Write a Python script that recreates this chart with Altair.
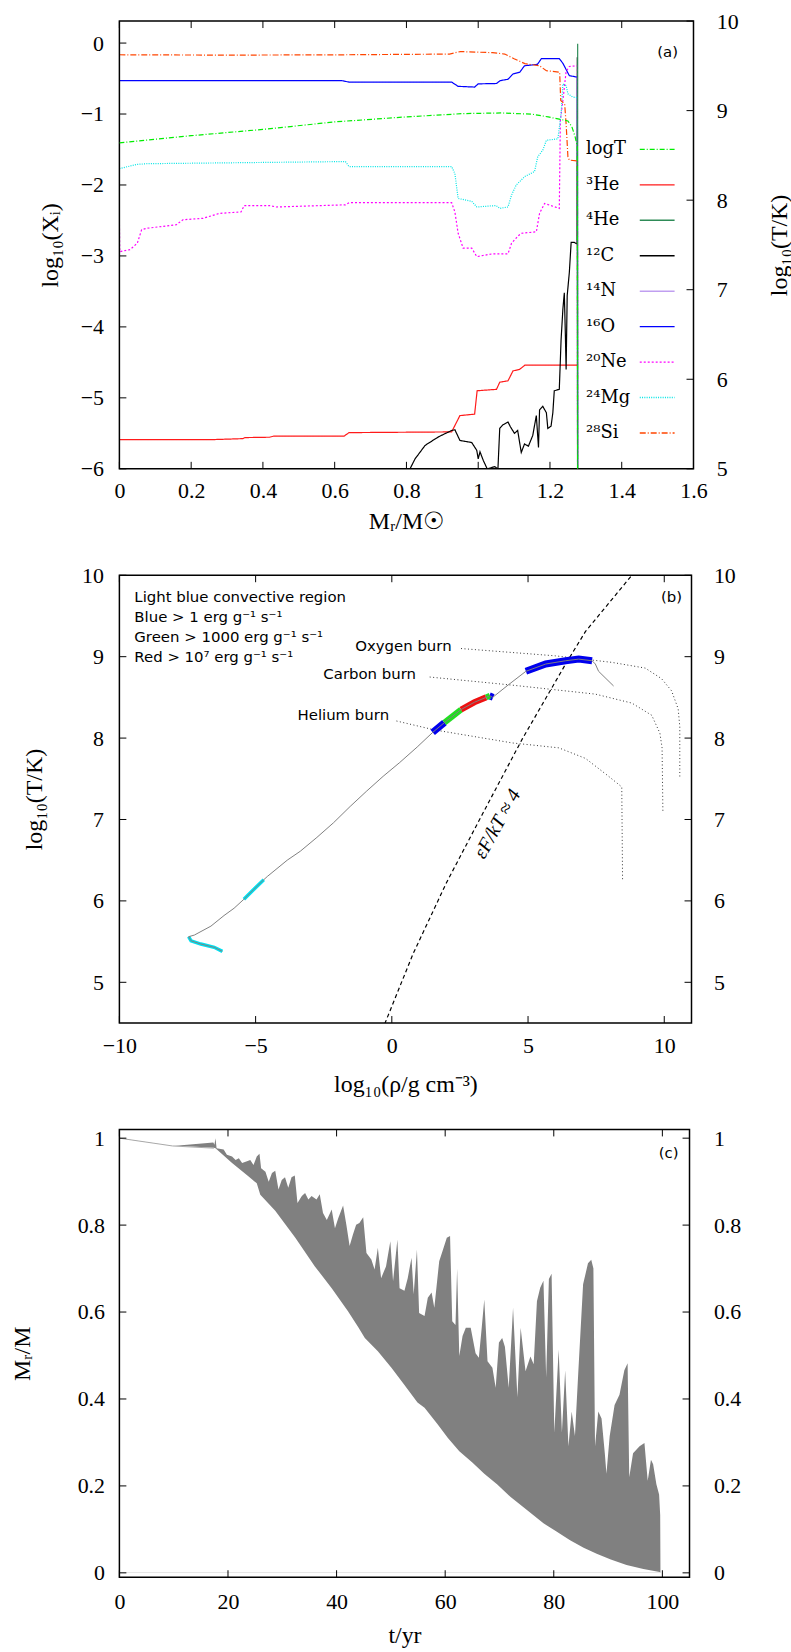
import altair as alt
import pandas as pd

SERIF = "Liberation Serif"
SERIF_SUP = "DejaVu Serif"
SANS = "DejaVu Sans"

# ======================= Panel (a): abundance profiles =======================
A_SPECIES = ["logT", "3He", "4He", "12C", "14N", "16O", "20Ne", "24Mg", "28Si"]
A_LABELS = ["logT", "³He", "⁴He", "¹²C", "¹⁴N", "¹⁶O", "²⁰Ne", "²⁴Mg", "²⁸Si"]
A_COLORS = ["#00ee00", "#ff1a1a", "#2e8b57", "#000000", "#c09ff0", "#0000ff", "#ff00ff", "#00e5e5", "#ff4500"]
A_DASHES = [[5, 2, 1, 2], [1, 0], [1, 0], [1, 0], [1, 0], [1, 0], [2, 2], [1, 1.3], [6, 2, 1, 2]]
A_XTICKS = [0, 0.2, 0.4, 0.6, 0.8, 1.0, 1.2, 1.4, 1.6]
A_YTICKS = [-6, -5, -4, -3, -2, -1, 0]
A_TTICKS = [5, 6, 7, 8, 9, 10]

LOGT = [(0, 8.64), (0.2, 8.72), (0.4, 8.79), (0.6, 8.874), (0.8, 8.93), (0.96, 8.967), (1.065, 8.974),
        (1.15, 8.96), (1.195, 8.93), (1.219, 8.91), (1.25, 8.885), (1.261, 8.82), (1.27, 8.71),
        (1.276, 8.60), (1.2772, 4.9)]
HE3 = [(0, -5.59), (0.25, -5.59), (0.344, -5.575), (0.35, -5.56), (0.418, -5.555), (0.43, -5.54),
       (0.626, -5.54), (0.64, -5.49), (0.926, -5.48), (0.93, -5.44), (0.949, -5.25), (0.99, -5.23),
       (0.997, -4.90), (1.051, -4.88), (1.06, -4.78), (1.083, -4.76), (1.097, -4.62), (1.115, -4.60),
       (1.13, -4.54), (1.277, -4.54)]
HE4 = [(1.2768, -6.5), (1.2772, -0.01)]
C12 = [(0.81, -6.0), (0.824, -5.86), (0.852, -5.67), (0.889, -5.55), (0.926, -5.46), (0.935, -5.45),
       (0.949, -5.60), (0.982, -5.63), (0.996, -5.74), (1.0, -5.86), (1.005, -5.76), (1.014, -5.88),
       (1.025, -6.0), (1.046, -5.97), (1.055, -6.0), (1.06, -5.43), (1.069, -5.38), (1.083, -5.34),
       (1.09, -5.41), (1.101, -5.50), (1.11, -5.46), (1.12, -5.77), (1.129, -5.65), (1.14, -5.68),
       (1.152, -5.53), (1.162, -5.25), (1.168, -5.70), (1.171, -5.17), (1.18, -5.12), (1.19, -5.21),
       (1.194, -5.43), (1.203, -5.40), (1.208, -5.21), (1.212, -4.90), (1.226, -4.88), (1.231, -4.18),
       (1.236, -3.75), (1.24, -3.52), (1.243, -4.13), (1.245, -4.60), (1.248, -3.56), (1.254, -3.23),
       (1.259, -2.81), (1.268, -2.81), (1.2755, -2.83), (1.2762, -0.2), (1.277, -6.5)]
N14 = [(1.2775, -6.5), (1.2775, -4.8)]
O16 = [(0, -0.53), (0.62, -0.53), (0.64, -0.55), (0.926, -0.55), (0.944, -0.61), (0.99, -0.62),
       (1.0, -0.575), (1.051, -0.57), (1.061, -0.53), (1.083, -0.51), (1.097, -0.435), (1.116, -0.41),
       (1.129, -0.32), (1.165, -0.30), (1.176, -0.22), (1.226, -0.22), (1.236, -0.285), (1.254, -0.46),
       (1.2765, -0.48), (1.277, -6.5)]
NE20 = [(0, -2.5), (0.001, -2.94), (0.03, -2.91), (0.05, -2.82), (0.062, -2.63), (0.077, -2.61),
        (0.159, -2.56), (0.177, -2.49), (0.233, -2.47), (0.279, -2.40), (0.339, -2.38), (0.348, -2.29),
        (0.418, -2.29), (0.437, -2.31), (0.63, -2.28), (0.64, -2.25), (0.926, -2.25), (0.935, -2.38),
        (0.944, -2.68), (0.958, -2.89), (0.982, -2.89), (0.996, -3.01), (1.04, -2.97), (1.083, -2.97),
        (1.093, -2.82), (1.111, -2.72), (1.12, -2.68), (1.162, -2.66), (1.171, -2.40), (1.185, -2.26),
        (1.226, -2.33), (1.229, -1.09), (1.236, -0.81), (1.245, -0.40), (1.254, -0.33), (1.2765, -0.32),
        (1.277, -6.5)]
MG24 = [(0, -1.77), (0.048, -1.71), (0.077, -1.70), (0.63, -1.67), (0.64, -1.74), (0.926, -1.74),
        (0.935, -1.84), (0.944, -2.19), (0.982, -2.23), (0.996, -2.31), (1.05, -2.29), (1.06, -2.33),
        (1.083, -2.31), (1.093, -2.14), (1.106, -2.0), (1.13, -1.88), (1.157, -1.81), (1.166, -1.60),
        (1.18, -1.51), (1.19, -1.37), (1.222, -1.35), (1.231, -1.0), (1.236, -0.575), (1.245, -0.6),
        (1.25, -0.715), (1.263, -0.76), (1.2765, -0.77), (1.277, -6.5)]
SI28 = [(0, -0.165), (0.3, -0.17), (0.63, -0.165), (0.92, -0.155), (0.95, -0.12), (1.04, -0.135),
        (1.074, -0.155), (1.10, -0.22), (1.13, -0.29), (1.171, -0.32), (1.19, -0.39), (1.227, -0.41),
        (1.23, -0.81), (1.241, -0.86), (1.245, -1.14), (1.250, -1.60), (1.254, -1.65), (1.2765, -1.66),
        (1.277, -6.5)]

# ======================= Panel (b): rho-T track =======================
B_XTICKS = [-10, -5, 0, 5, 10]
B_YTICKS = [5, 6, 7, 8, 9, 10]
TRACK = [(-6.22, 5.38), (-6.52, 5.43), (-7.01, 5.47), (-7.37, 5.51), (-7.46, 5.56), (-7.25, 5.58),
         (-6.64, 5.69), (-6.16, 5.82), (-5.79, 5.91), (-5.43, 6.02), (-5.07, 6.14), (-4.70, 6.26),
         (-4.57, 6.30), (-3.84, 6.50), (-3.36, 6.61), (-2.75, 6.78), (-2.14, 6.96), (-1.53, 7.16),
         (-0.92, 7.35), (-0.32, 7.53), (0.29, 7.70), (0.93, 7.89), (1.50, 8.07), (1.93, 8.19),
         (2.54, 8.35), (3.03, 8.44), (3.46, 8.50), (3.60, 8.52), (3.70, 8.50), (4.30, 8.66),
         (4.92, 8.82), (5.65, 8.91), (6.38, 8.95), (6.86, 8.97), (7.35, 8.95), (7.47, 8.91),
         (7.59, 8.82), (8.14, 8.64)]
CYAN_SEGS = [[(-6.22, 5.38), (-6.52, 5.43), (-7.01, 5.47), (-7.37, 5.51), (-7.46, 5.56)],
             [(-5.43, 6.02), (-5.07, 6.14), (-4.70, 6.26)]]
BLUE_SEGS = [[(1.50, 8.07), (1.93, 8.19)],
             [(3.58, 8.52), (3.72, 8.50)],
             [(4.92, 8.82), (5.65, 8.91), (6.38, 8.95), (6.86, 8.97), (7.35, 8.95)]]
GREEN_SEGS = [[(1.93, 8.19), (2.54, 8.35)], [(3.46, 8.50), (3.60, 8.52)]]
RED_SEGS = [[(2.54, 8.35), (3.03, 8.44), (3.46, 8.50)]]
BURN_OXYGEN = [(2.54, 9.10), (6.01, 9.01), (8.08, 8.93), (9.30, 8.86), (9.90, 8.73), (10.27, 8.58),
               (10.51, 8.36), (10.57, 8.14), (10.57, 7.51)]
BURN_CARBON = [(1.39, 8.75), (4.43, 8.65), (7.47, 8.54), (8.81, 8.43), (9.54, 8.28), (9.84, 8.06),
               (9.92, 7.88), (9.95, 7.09)]
BURN_HELIUM = [(0.17, 8.21), (1.57, 8.10), (4.43, 7.94), (6.13, 7.88), (7.11, 7.75), (7.96, 7.53),
               (8.44, 7.40), (8.47, 6.24)]
DEGEN = [(-0.26, 4.49), (0.78, 5.35), (2.0, 6.22), (3.3, 7.05), (4.79, 7.99), (6.38, 8.91),
         (7.11, 9.31), (8.81, 10.0)]

# ======================= Panel (c): convective boundaries =======================
C_XTICKS = [0, 20, 40, 60, 80, 100]
C_YTICKS = [0, 0.2, 0.4, 0.6, 0.8, 1.0]
C_EARLY = [(0, 1.0), (9.8, 0.982), (17.4, 0.977)]
C_TOP = [(0, 1.0), (9.8, 0.982), (17.3, 0.99), (17.5, 0.985), (17.7, 1.0), (17.9, 0.977), (19.2, 0.974),
         (19.8, 0.962), (20.75, 0.958), (21.4, 0.950), (22.0, 0.954), (22.6, 0.943), (23.5, 0.947),
         (24.1, 0.950), (24.7, 0.938), (25.3, 0.958), (25.8, 0.964), (26.1, 0.931), (26.9, 0.923),
         (27.5, 0.900), (28.1, 0.920), (28.7, 0.925), (29.3, 0.882), (29.9, 0.904), (30.5, 0.910),
         (31.1, 0.886), (31.7, 0.910), (32.3, 0.914), (32.8, 0.851), (33.6, 0.867), (34.2, 0.874),
         (34.8, 0.859), (35.4, 0.867), (36.3, 0.859), (36.9, 0.871), (37.5, 0.828), (38.2, 0.812),
         (39.1, 0.836), (39.7, 0.793), (40.3, 0.816), (41.2, 0.845), (41.8, 0.801), (42.4, 0.752),
         (43.0, 0.778), (43.6, 0.801), (44.2, 0.805), (44.9, 0.818), (45.5, 0.736), (46.4, 0.721),
         (47.0, 0.698), (47.6, 0.748), (48.2, 0.678), (49.1, 0.705), (49.9, 0.763), (50.4, 0.671),
         (51.2, 0.767), (51.6, 0.655), (52.5, 0.649), (53.1, 0.678), (53.8, 0.725), (54.2, 0.641),
         (54.8, 0.744), (55.2, 0.598), (56.2, 0.591), (56.8, 0.633), (57.5, 0.645), (58.0, 0.610),
         (58.9, 0.717), (59.5, 0.740), (60.3, 0.771), (60.9, 0.775), (61.3, 0.579), (61.9, 0.57),
         (62.2, 0.70), (62.6, 0.499), (63.2, 0.545), (63.8, 0.564), (64.7, 0.564), (65.6, 0.505),
         (66.2, 0.495), (66.7, 0.56), (67.2, 0.629), (67.8, 0.487), (68.7, 0.472), (69.3, 0.426),
         (69.9, 0.53), (70.5, 0.540), (71.0, 0.52), (71.7, 0.426), (72.5, 0.610), (73.3, 0.404),
         (73.9, 0.564), (74.8, 0.464), (75.7, 0.498), (76.3, 0.48), (76.9, 0.625), (77.5, 0.656),
         (78.1, 0.672), (78.6, 0.45), (79.1, 0.676), (79.6, 0.688), (80.1, 0.323), (80.9, 0.514),
         (81.5, 0.323), (82.1, 0.466), (82.7, 0.291), (83.3, 0.371), (83.9, 0.315), (84.5, 0.458),
         (85.4, 0.664), (86.3, 0.712), (86.9, 0.72), (87.3, 0.70), (87.6, 0.291), (88.2, 0.371),
         (88.8, 0.355), (89.4, 0.275), (89.7, 0.228), (90.3, 0.315), (91.2, 0.386), (92.1, 0.41),
         (93.0, 0.466), (93.6, 0.482), (93.9, 0.22), (94.6, 0.275), (95.8, 0.291), (96.7, 0.299),
         (97.3, 0.212), (97.9, 0.26), (98.3, 0.25), (98.9, 0.204), (99.4, 0.18), (99.6, 0.133),
         (99.65, 0.0)]
C_BOT = [(0, 1.0), (9.8, 0.983), (17.4, 0.978), (17.7, 0.977), (20.75, 0.943), (23.8, 0.912),
         (25.3, 0.896), (25.95, 0.870), (28.7, 0.833), (32.4, 0.771), (36.0, 0.705), (39.1, 0.655),
         (42.1, 0.602), (44.0, 0.565), (45.2, 0.540), (47.6, 0.51), (50.1, 0.472), (52.5, 0.432),
         (54.9, 0.392), (56.2, 0.38), (58.6, 0.342), (60.5, 0.31), (62.6, 0.28), (65.0, 0.254),
         (67.2, 0.228), (69.6, 0.203), (72.0, 0.175), (75.0, 0.145), (78.1, 0.114), (80.5, 0.095),
         (83.0, 0.075), (85.5, 0.058), (87.9, 0.044), (90.5, 0.031), (93.4, 0.018), (96.5, 0.009),
         (99.5, 0.002), (99.7, 0.0)]

# ======================= helpers =======================
H = 450
W_A, W_B, W_C = 577, 575, 573
ONE = pd.DataFrame({"k": [0]})

AX = dict(grid=False, domain=False, ticks=False, tickSize=0, labelFont=SERIF, labelFontSize=22,
          labelColor="black", titleFont=SERIF, titleFontSize=24, titleFontWeight="normal",
          titleColor="black", labelFlush=False, labelOverlap=False, titleAlign="center",
          titleBaseline="middle")


def pairs_df(pairs, xname, yname, **extra):
    df = pd.DataFrame(pairs, columns=[xname, yname])
    df["i"] = range(len(df))
    for k, v in extra.items():
        df[k] = v
    return df


def segs_df(segs, xname, yname):
    return pd.concat([pairs_df(s, xname, yname, seg=j) for j, s in enumerate(segs)], ignore_index=True)


def frame(W):
    return alt.Chart(ONE).mark_rect(fillOpacity=0, stroke="black", strokeWidth=1.5).encode(
        x=alt.value(0), x2=alt.value(W), y=alt.value(0), y2=alt.value(H))


def spacer(left, top, bottom):
    return alt.Chart(ONE).mark_rect(opacity=0).encode(
        x=alt.value(-left), x2=alt.value(0), y=alt.value(-top), y2=alt.value(H + bottom))


def text_at(txt, x, y, size, font=SANS, align="left", angle=0, style="normal"):
    kw = dict(text=txt, align=align, baseline="middle", font=font, fontSize=size, color="black",
              fontStyle=style)
    if angle:
        kw["angle"] = angle
    return alt.Chart(ONE).mark_text(**kw).encode(x=alt.value(x), y=alt.value(y))


def yticks(vals, scale, side, W, axis):
    x0, x1 = (0, 7) if side == "left" else (W - 7, W)
    return alt.Chart(pd.DataFrame({"v": vals})).mark_rule(color="black", strokeWidth=1).encode(
        x=alt.value(x0), x2=alt.value(x1), y=alt.Y("v:Q", scale=scale, axis=axis))


def xticks(vals, scale, axis):
    df = pd.DataFrame({"v": vals})
    base = alt.Chart(df).mark_rule(color="black", strokeWidth=1)
    top = base.encode(x=alt.X("v:Q", scale=scale, axis=axis), y=alt.value(0), y2=alt.value(7))
    bot = base.encode(x=alt.X("v:Q", scale=scale, axis=axis), y=alt.value(H - 7), y2=alt.value(H))
    return [top, bot]


# ======================= Panel (a) chart =======================
xa = alt.Scale(domain=[0, 1.6], nice=False, zero=False)
ya = alt.Scale(domain=[-6, 0.31], nice=False, zero=False)
ta = alt.Scale(domain=[5, 10], nice=False, zero=False)
col_a = alt.Scale(domain=A_SPECIES, range=A_COLORS)
dash_a = alt.Scale(domain=A_SPECIES, range=A_DASHES)

AXA_X = alt.Axis(values=A_XTICKS, format="~g", labelPadding=12, title="Mᵣ/M☉", titleX=W_A / 2, titleY=53, **AX)
AXA_Y = alt.Axis(orient="left", values=A_YTICKS, format="d", labelPadding=16, title="log₁₀(Xᵢ)",
                 titleX=-69, titleY=H / 2, titleAngle=270, **AX)
AXA_T = alt.Axis(orient="right", values=A_TTICKS, format="d", labelPadding=23, title="log₁₀(T/K)",
                 titleX=86, titleY=H / 2, titleAngle=270, **AX)

series = [("3He", HE3), ("12C", C12), ("16O", O16), ("20Ne", NE20), ("24Mg", MG24), ("28Si", SI28),
          ("14N", N14), ("4He", HE4)]
df_ab = pd.concat([pairs_df(p, "M", "X", sp=s) for s, p in series], ignore_index=True)
df_T = pairs_df(LOGT, "M", "T", sp="logT")
df_leg = pd.DataFrame({"sp": A_SPECIES, "lab": A_LABELS})

ab_lines = alt.Chart(df_ab).mark_line(clip=True, strokeWidth=1.2).encode(
    x=alt.X("M:Q", scale=xa, axis=AXA_X),
    y=alt.Y("X:Q", scale=ya, axis=AXA_Y),
    color=alt.Color("sp:N", scale=col_a, legend=None),
    strokeDash=alt.StrokeDash("sp:N", scale=dash_a, legend=None),
    detail="sp:N",
    order="i:Q")

t_line = alt.Chart(df_T).mark_line(clip=True, strokeWidth=1.2).encode(
    x=alt.X("M:Q", scale=xa, axis=AXA_X),
    y=alt.Y("T:Q", scale=ta, axis=AXA_T),
    color=alt.Color("sp:N", scale=col_a, legend=None),
    strokeDash=alt.StrokeDash("sp:N", scale=dash_a, legend=None),
    order="i:Q")

leg_y = alt.Y("sp:N", scale=alt.Scale(type="point", domain=A_SPECIES, range=[129, 414], padding=0), axis=None)
leg_rules = alt.Chart(df_leg).mark_rule(strokeWidth=1.4).encode(
    x=alt.value(523), x2=alt.value(558), y=leg_y,
    color=alt.Color("sp:N", scale=col_a, legend=None),
    strokeDash=alt.StrokeDash("sp:N", scale=dash_a, legend=None))
leg_text = alt.Chart(df_leg).mark_text(align="left", baseline="middle", font=SERIF_SUP, fontSize=18,
                                       color="black").encode(x=alt.value(469), y=leg_y, text="lab:N")

left_a = alt.layer(spacer(116, 17, 85), ab_lines, yticks(A_YTICKS, ya, "left", W_A, AXA_Y),
                   *xticks(A_XTICKS, xa, AXA_X),
                   text_at("(a)", 551, 31, 15, align="center"), frame(W_A))
right_a = alt.layer(t_line, yticks(A_TTICKS, ta, "right", W_A, AXA_T))
legend_a = alt.layer(leg_rules, leg_text)
panel_a = alt.layer(left_a, right_a, legend_a).resolve_scale(y="independent").properties(width=W_A, height=H)

# ======================= Panel (b) chart =======================
xb = alt.Scale(domain=[-10, 11], nice=False, zero=False)
yb = alt.Scale(domain=[4.5, 10], nice=False, zero=False)
AXB_X = alt.Axis(values=B_XTICKS, format="d", labelPadding=13, title="log₁₀(ρ/g cm⁻³)", titleX=W_B / 2,
                 titleY=62, **AX)
AXB_Y = alt.Axis(orient="left", values=B_YTICKS, format="d", labelPadding=16, title="log₁₀(T/K)",
                 titleX=-85, titleY=H / 2, titleAngle=270, **AX)
AXB_R = alt.Axis(orient="right", values=B_YTICKS, format="d", labelPadding=22, title=None, **AX)

df_track = pairs_df(TRACK, "rho", "T")
df_burn = pd.concat([pairs_df(BURN_OXYGEN, "rho", "T", burn="O"),
                     pairs_df(BURN_CARBON, "rho", "T", burn="C"),
                     pairs_df(BURN_HELIUM, "rho", "T", burn="He")], ignore_index=True)
df_degen = pairs_df(DEGEN, "rho", "T")

XB = alt.X("rho:Q", scale=xb, axis=AXB_X)
YB = alt.Y("T:Q", scale=yb, axis=AXB_Y)


def band(segs, color, width):
    return alt.Chart(segs_df(segs, "rho", "T")).mark_line(
        clip=True, color=color, strokeWidth=width, strokeCap="butt").encode(
        x=XB, y=YB, detail="seg:N", order="i:Q")


burn_lines = alt.Chart(df_burn).mark_line(clip=True, color="#333333", strokeWidth=1,
                                          strokeDash=[1, 2.5]).encode(
    x=XB, y=YB, detail="burn:N", order="i:Q")
degen_line = alt.Chart(df_degen).mark_line(clip=True, color="black", strokeWidth=1.2,
                                           strokeDash=[4, 3]).encode(x=XB, y=YB, order="i:Q")
track_line = alt.Chart(df_track).mark_line(clip=True, color="#808080", strokeWidth=1).encode(
    x=XB, y=YB, order="i:Q")

texts_b = [
    text_at("Light blue convective region", 15, 22, 15),
    text_at("Blue > 1 erg g⁻¹ s⁻¹", 15, 42, 15),
    text_at("Green > 1000 erg g⁻¹ s⁻¹", 15, 62, 15),
    text_at("Red > 10⁷ erg g⁻¹ s⁻¹", 15, 82, 15),
    text_at("Oxygen burn", 237, 71, 15),
    text_at("Carbon burn", 205, 99, 15),
    text_at("Helium burn", 179, 140, 15),
    text_at("(b)", 555, 22, 15, align="center"),
    text_at("εF/kT ≈ 4", 380, 250, 20, font=SERIF, align="center", angle=299, style="italic"),
]

left_b = alt.layer(spacer(118, 22, 85), burn_lines, degen_line,
                   band(CYAN_SEGS, "#00e0f0", 3.5), band(BLUE_SEGS, "#0000ee", 7),
                   band(GREEN_SEGS, "#22dd22", 6), band(RED_SEGS, "#ee1111", 6),
                   track_line, *texts_b, yticks(B_YTICKS, yb, "left", W_B, AXB_Y),
                   *xticks(B_XTICKS, xb, AXB_X), frame(W_B))
right_b = yticks(B_YTICKS, yb, "right", W_B, AXB_R)
panel_b = alt.layer(left_b, right_b).resolve_scale(y="independent").properties(width=W_B, height=H)

# ======================= Panel (c) chart =======================
xc = alt.Scale(domain=[0, 105], nice=False, zero=False)
yc = alt.Scale(domain=[-0.01, 1.02], nice=False, zero=False)
AXC_X = alt.Axis(values=C_XTICKS, format="d", labelPadding=14, title="t/yr", titleX=W_C / 2, titleY=59, **AX)
AXC_Y = alt.Axis(orient="left", values=C_YTICKS, format="~g", labelPadding=15, title="Mᵣ/M",
                 titleX=-97, titleY=H / 2, titleAngle=270, **AX)
AXC_R = alt.Axis(orient="right", values=C_YTICKS, format="~g", labelPadding=24, title=None, **AX)

df_top = pairs_df(C_TOP, "t", "y")
df_bot = pairs_df(C_BOT, "t", "y")
df_early = pairs_df(C_EARLY, "t", "y")

XC = alt.X("t:Q", scale=xc, axis=AXC_X)
YC = alt.Y("y:Q", scale=yc, axis=AXC_Y)

gray_area = alt.Chart(df_top).mark_area(clip=True, color="#808080").encode(x=XC, y=YC, y2=alt.datum(0))
white_area = alt.Chart(df_bot).mark_area(clip=True, color="white").encode(x=XC, y=YC, y2=alt.datum(0))
early_line = alt.Chart(df_early).mark_line(clip=True, color="#a8a8a8", strokeWidth=1).encode(
    x=XC, y=YC, order="i:Q")

left_c = alt.layer(spacer(120, 22, 0), gray_area, white_area, early_line,
                   yticks(C_YTICKS, yc, "left", W_C, AXC_Y), *xticks(C_XTICKS, xc, AXC_X),
                   text_at("(c)", 552, 24, 15, align="center"), frame(W_C))
right_c = yticks(C_YTICKS, yc, "right", W_C, AXC_R)
panel_c = alt.layer(left_c, right_c).resolve_scale(y="independent").properties(width=W_C, height=H)

chart = alt.vconcat(panel_a, panel_b, panel_c, spacing=0, padding=0).configure(
    background="white").configure_view(strokeWidth=0)

chart.save("out.html", embed_options={"renderer": "svg", "actions": False})
